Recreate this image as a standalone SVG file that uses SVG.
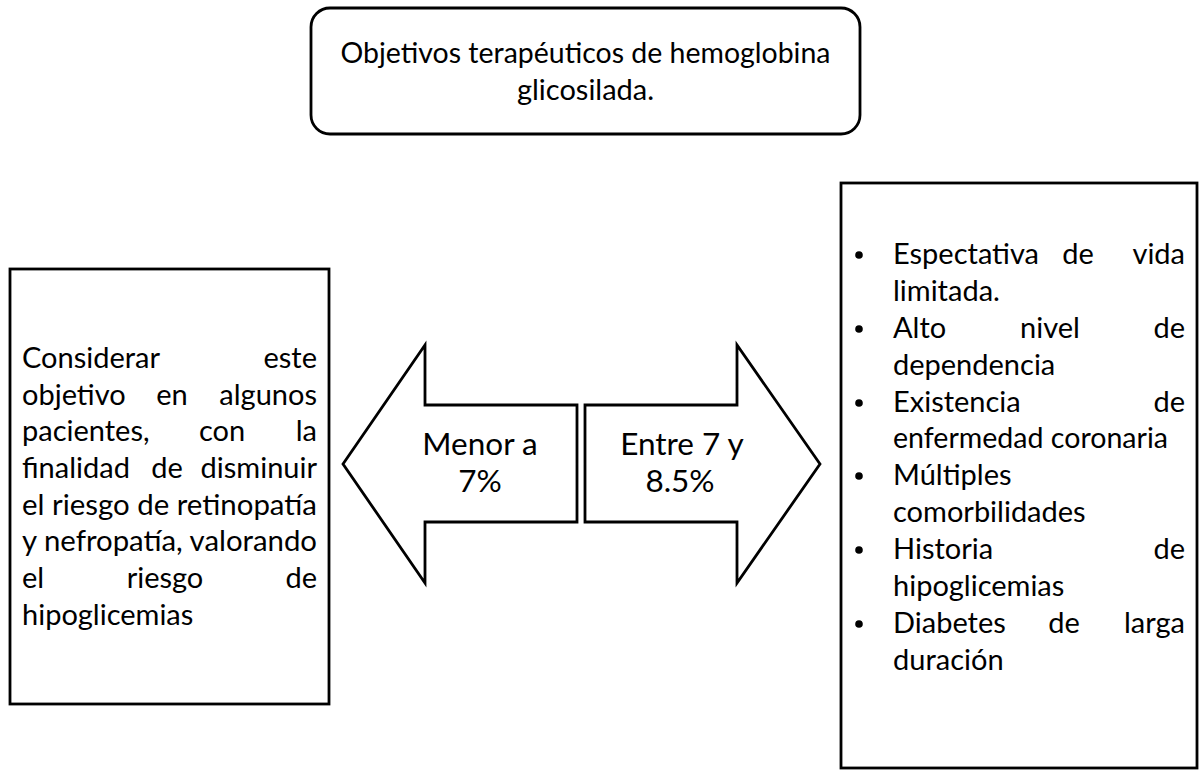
<svg xmlns="http://www.w3.org/2000/svg" width="1203" height="770" viewBox="0 0 1203 770">
<style>
.box{fill:#fff;stroke:#000;stroke-width:2.8}
.arr{fill:#fff;stroke:#000;stroke-width:2.8;stroke-linejoin:miter}
.t{font-family:Lato,"Open Sans","Liberation Sans",sans-serif;font-size:29px;fill:#000}
.ta{font-family:Lato,"Open Sans","Liberation Sans",sans-serif;font-size:31.5px;fill:#000}
.e{text-anchor:end}
.m{text-anchor:middle}
</style>
<rect width="1203" height="770" fill="#fff"/>
<g id="node-title">
<rect class="box" x="311" y="8" width="549" height="126" rx="19"/>
<text class="t m" x="585.5" y="63" textLength="490" lengthAdjust="spacingAndGlyphs">Objetivos terapéuticos de hemoglobina</text>
<text class="t m" x="585.5" y="100">glicosilada.</text>
</g>
<g id="node-left">
<rect class="box" x="10" y="269" width="319" height="435"/>
<text class="t" x="22" y="368">Considerar</text>
<text class="t e" x="317" y="368">este</text>
<text class="t" x="22" y="405">objetivo</text>
<text class="t m" x="172" y="405">en</text>
<text class="t e" x="317" y="405">algunos</text>
<text class="t" x="22" y="441">pacientes,</text>
<text class="t m" x="222" y="441">con</text>
<text class="t e" x="317" y="441">la</text>
<text class="t" x="22" y="478">finalidad</text>
<text class="t m" x="167" y="478">de</text>
<text class="t e" x="317" y="478">disminuir</text>
<text class="t" x="22" y="515" textLength="295" lengthAdjust="spacingAndGlyphs">el riesgo de retinopatía</text>
<text class="t" x="22" y="551" textLength="295" lengthAdjust="spacingAndGlyphs">y nefropatía, valorando</text>
<text class="t" x="22" y="588">el</text>
<text class="t m" x="165" y="588">riesgo</text>
<text class="t e" x="317" y="588">de</text>
<text class="t" x="22" y="625">hipoglicemias</text>
</g>
<g id="node-arrow-left">
<polygon class="arr" points="343,464 425,345 425,405 577,405 577,522 425,522 425,583"/>
<text class="ta m" x="480" y="455">Menor a</text>
<text class="ta m" x="480" y="492">7%</text>
</g>
<g id="node-arrow-right">
<polygon class="arr" points="820,464 737,345 737,405 585,405 585,522 737,522 737,583"/>
<text class="ta m" x="682" y="455">Entre 7 y</text>
<text class="ta m" x="680" y="492">8.5%</text>
</g>
<g id="node-right">
<rect class="box" x="841" y="183" width="356" height="585"/>
<g fill="#000">
<circle cx="859" cy="255" r="3.8"/>
<circle cx="859" cy="329" r="3.8"/>
<circle cx="859" cy="403" r="3.8"/>
<circle cx="859" cy="476" r="3.8"/>
<circle cx="859" cy="550" r="3.8"/>
<circle cx="859" cy="624" r="3.8"/>
</g>
<text class="t" x="893" y="264">Espectativa</text>
<text class="t m" x="1078" y="264">de</text>
<text class="t e" x="1185" y="264">vida</text>
<text class="t" x="893" y="301">limitada.</text>
<text class="t" x="893" y="338">Alto</text>
<text class="t m" x="1050" y="338">nivel</text>
<text class="t e" x="1185" y="338">de</text>
<text class="t" x="893" y="375">dependencia</text>
<text class="t" x="893" y="412">Existencia</text>
<text class="t e" x="1185" y="412">de</text>
<text class="t" x="893" y="448" textLength="275" lengthAdjust="spacingAndGlyphs">enfermedad coronaria</text>
<text class="t" x="893" y="485">Múltiples</text>
<text class="t" x="893" y="522">comorbilidades</text>
<text class="t" x="893" y="559">Historia</text>
<text class="t e" x="1185" y="559">de</text>
<text class="t" x="893" y="596">hipoglicemias</text>
<text class="t" x="893" y="633">Diabetes</text>
<text class="t m" x="1064" y="633">de</text>
<text class="t e" x="1185" y="633">larga</text>
<text class="t" x="893" y="670">duración</text>
</g>
<g id="connectors"/>
</svg>
